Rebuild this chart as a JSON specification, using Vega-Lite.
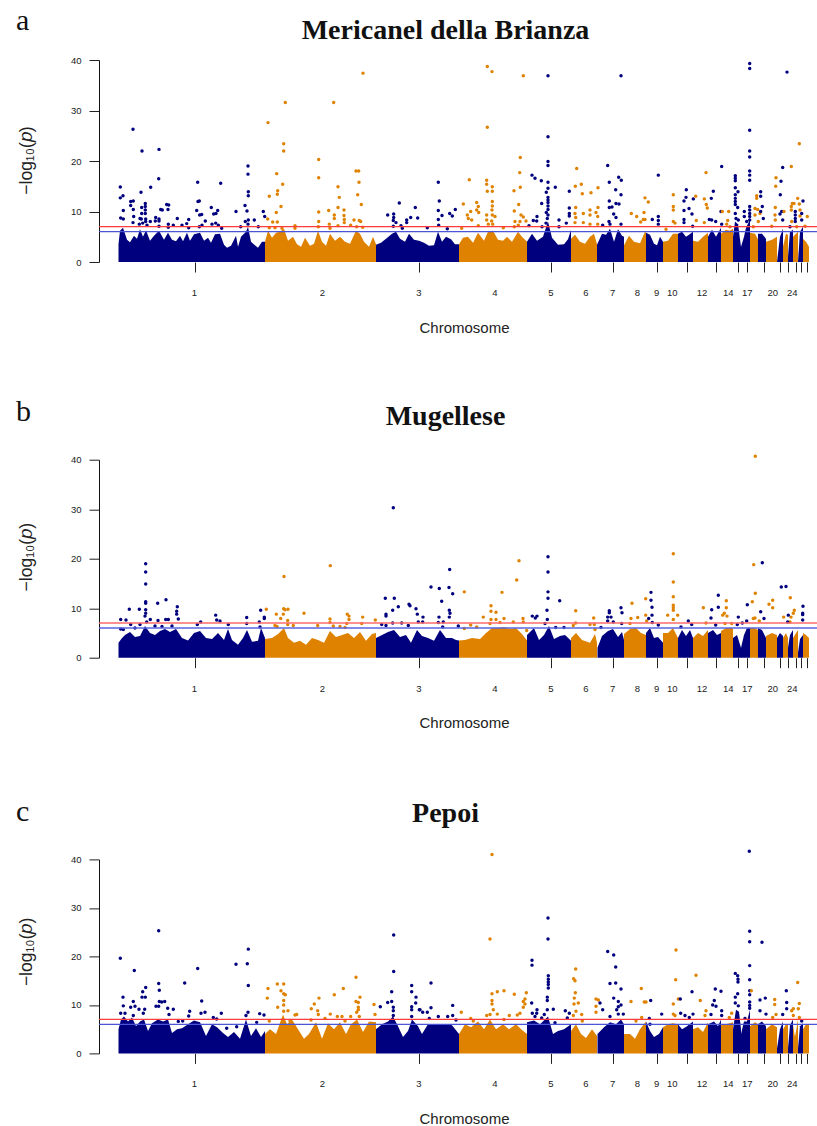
{"$schema":"https://vega.github.io/schema/vega-lite/v6.json","background":"white","padding":{"left":16,"top":6,"right":0,"bottom":0},"config":{"view":{"stroke":null},"title":{"font":"Liberation Serif","fontWeight":"bold","fontSize":28,"color":"#111","dx":-12.5},"axis":{"labelFont":"Liberation Sans","titleFont":"Liberation Sans","labelColor":"#222","titleColor":"#222","grid":false,"tickColor":"#222","domainColor":"#111","labelFontSize":9.5,"titleFontWeight":"normal"},"text":{"font":"Liberation Serif","fontSize":30,"color":"#111"}},
"datasets":{
"chrLabels":[{"pos":194.5,"label":"1"},{"pos":322.5,"label":"2"},{"pos":419,"label":"3"},{"pos":495,"label":"4"},{"pos":551,"label":"5"},{"pos":586,"label":"6"},{"pos":612.7,"label":"7"},{"pos":637.3,"label":"8"},{"pos":656.7,"label":"9"},{"pos":672.3,"label":"10"},{"pos":702,"label":"12"},{"pos":728.3,"label":"14"},{"pos":747.3,"label":"17"},{"pos":772.7,"label":"20"},{"pos":792.3,"label":"24"}],
"envA":[{"chr":1,"pos":118.5,"top":3.5},{"chr":1,"pos":120,"top":6.2},{"chr":1,"pos":123,"top":6.8},{"chr":1,"pos":127,"top":4.4},{"chr":1,"pos":130,"top":3.9},{"chr":1,"pos":134,"top":5.2},{"chr":1,"pos":137,"top":4.6},{"chr":1,"pos":140,"top":6.5},{"chr":1,"pos":143,"top":5},{"chr":1,"pos":146,"top":6.3},{"chr":1,"pos":150,"top":4.2},{"chr":1,"pos":154,"top":5.2},{"chr":1,"pos":159,"top":6.2},{"chr":1,"pos":164,"top":4.4},{"chr":1,"pos":168,"top":5.8},{"chr":1,"pos":172,"top":4.4},{"chr":1,"pos":176,"top":4.1},{"chr":1,"pos":180,"top":5.2},{"chr":1,"pos":183,"top":4.1},{"chr":1,"pos":187,"top":5.8},{"chr":1,"pos":190,"top":4.2},{"chr":1,"pos":194,"top":5.5},{"chr":1,"pos":200,"top":5.8},{"chr":1,"pos":204,"top":4.2},{"chr":1,"pos":208,"top":4.8},{"chr":1,"pos":211,"top":3.8},{"chr":1,"pos":215,"top":5.5},{"chr":1,"pos":220,"top":5.6},{"chr":1,"pos":224,"top":3.4},{"chr":1,"pos":227,"top":2.8},{"chr":1,"pos":231,"top":3.2},{"chr":1,"pos":236,"top":5.2},{"chr":1,"pos":238,"top":3},{"chr":1,"pos":241,"top":5},{"chr":1,"pos":246,"top":6},{"chr":1,"pos":248,"top":7},{"chr":1,"pos":251,"top":4},{"chr":1,"pos":258,"top":2.8},{"chr":1,"pos":262,"top":4},{"chr":1,"pos":265,"top":4},
{"chr":2,"pos":265,"top":4},{"chr":2,"pos":268,"top":6.2},{"chr":2,"pos":272,"top":4.8},{"chr":2,"pos":276,"top":5.8},{"chr":2,"pos":280,"top":6},{"chr":2,"pos":284,"top":6.6},{"chr":2,"pos":288,"top":4.2},{"chr":2,"pos":293,"top":5},{"chr":2,"pos":297,"top":3.5},{"chr":2,"pos":301,"top":3},{"chr":2,"pos":305,"top":4.8},{"chr":2,"pos":310,"top":3.2},{"chr":2,"pos":314,"top":3.6},{"chr":2,"pos":318,"top":6.2},{"chr":2,"pos":322,"top":4},{"chr":2,"pos":326,"top":3.2},{"chr":2,"pos":330,"top":5.6},{"chr":2,"pos":335,"top":4.2},{"chr":2,"pos":340,"top":5},{"chr":2,"pos":345,"top":4},{"chr":2,"pos":350,"top":3.6},{"chr":2,"pos":356,"top":6.2},{"chr":2,"pos":360,"top":5.6},{"chr":2,"pos":364,"top":4},{"chr":2,"pos":369,"top":3},{"chr":2,"pos":373,"top":5},{"chr":2,"pos":376,"top":3.5},
{"chr":3,"pos":376,"top":3.4},{"chr":3,"pos":381,"top":3.8},{"chr":3,"pos":386,"top":4.6},{"chr":3,"pos":392,"top":5.6},{"chr":3,"pos":396,"top":6},{"chr":3,"pos":400,"top":4.6},{"chr":3,"pos":405,"top":4},{"chr":3,"pos":409,"top":5.6},{"chr":3,"pos":414,"top":4.4},{"chr":3,"pos":419,"top":4.2},{"chr":3,"pos":424,"top":3.8},{"chr":3,"pos":429,"top":3.2},{"chr":3,"pos":434,"top":3.3},{"chr":3,"pos":438,"top":6},{"chr":3,"pos":442,"top":4},{"chr":3,"pos":446,"top":5},{"chr":3,"pos":451,"top":4.5},{"chr":3,"pos":455,"top":3.5},{"chr":3,"pos":459,"top":3.5},
{"chr":4,"pos":459,"top":3.5},{"chr":4,"pos":463,"top":4.8},{"chr":4,"pos":468,"top":5},{"chr":4,"pos":473,"top":3.8},{"chr":4,"pos":478,"top":5.8},{"chr":4,"pos":484,"top":4.2},{"chr":4,"pos":488,"top":6},{"chr":4,"pos":493,"top":6.2},{"chr":4,"pos":498,"top":4.4},{"chr":4,"pos":503,"top":4.2},{"chr":4,"pos":507,"top":5},{"chr":4,"pos":512,"top":4},{"chr":4,"pos":518,"top":6},{"chr":4,"pos":522,"top":5},{"chr":4,"pos":527,"top":4},
{"chr":5,"pos":527,"top":4},{"chr":5,"pos":532,"top":5.6},{"chr":5,"pos":537,"top":4.2},{"chr":5,"pos":543,"top":5},{"chr":5,"pos":548,"top":8},{"chr":5,"pos":552,"top":4.8},{"chr":5,"pos":558,"top":3.4},{"chr":5,"pos":564,"top":3.5},{"chr":5,"pos":568,"top":4.5},{"chr":5,"pos":571,"top":6.4},
{"chr":6,"pos":571,"top":4.6},{"chr":6,"pos":575,"top":5.4},{"chr":6,"pos":580,"top":4},{"chr":6,"pos":585,"top":3.6},{"chr":6,"pos":590,"top":5},{"chr":6,"pos":594,"top":5.6},{"chr":6,"pos":597,"top":3.5},
{"chr":7,"pos":597,"top":3.4},{"chr":7,"pos":602,"top":5.6},{"chr":7,"pos":606,"top":5.4},{"chr":7,"pos":610,"top":6.6},{"chr":7,"pos":614,"top":4},{"chr":7,"pos":618,"top":6.5},{"chr":7,"pos":622,"top":5.2},{"chr":7,"pos":624,"top":5},
{"chr":8,"pos":624,"top":3.3},{"chr":8,"pos":629,"top":5.2},{"chr":8,"pos":634,"top":4},{"chr":8,"pos":640,"top":3.7},{"chr":8,"pos":645,"top":6},{"chr":8,"pos":646,"top":5.8},
{"chr":9,"pos":646,"top":5.8},{"chr":9,"pos":650,"top":5.4},{"chr":9,"pos":654,"top":3.6},{"chr":9,"pos":657,"top":3.3},{"chr":9,"pos":660,"top":5},{"chr":9,"pos":663,"top":4},
{"chr":10,"pos":663,"top":4},{"chr":10,"pos":668,"top":4.2},{"chr":10,"pos":673,"top":5.6},{"chr":10,"pos":678,"top":5.6},
{"chr":11,"pos":678,"top":5.6},{"chr":11,"pos":682,"top":6},{"chr":11,"pos":686,"top":5},{"chr":11,"pos":689,"top":5.4},{"chr":11,"pos":693,"top":6},
{"chr":12,"pos":693,"top":4.2},{"chr":12,"pos":698,"top":4},{"chr":12,"pos":703,"top":5},{"chr":12,"pos":708,"top":5.8},
{"chr":13,"pos":708,"top":5},{"chr":13,"pos":712,"top":6.4},{"chr":13,"pos":716,"top":5},{"chr":13,"pos":721,"top":6.8},
{"chr":14,"pos":721,"top":5.6},{"chr":14,"pos":726,"top":6.4},{"chr":14,"pos":730,"top":6.2},{"chr":14,"pos":733,"top":6.6},
{"chr":15,"pos":733,"top":5},{"chr":15,"pos":735,"top":8},{"chr":15,"pos":738,"top":7.5},{"chr":15,"pos":741,"top":3},
{"chr":17,"pos":741,"top":3},{"chr":17,"pos":744,"top":5},{"chr":17,"pos":746,"top":6.8},{"chr":17,"pos":750,"top":8.4},
{"chr":18,"pos":750,"top":5.8},{"chr":18,"pos":755,"top":5.6},{"chr":18,"pos":758,"top":4.5},
{"chr":19,"pos":758,"top":5.6},{"chr":19,"pos":762,"top":5.6},{"chr":19,"pos":766,"top":4.6},
{"chr":20,"pos":766,"top":4},{"chr":20,"pos":772,"top":4.4},{"chr":20,"pos":777,"top":5},
{"chr":21,"pos":777,"top":0},{"chr":21,"pos":780,"top":5},{"chr":21,"pos":783,"top":6.6},
{"chr":22,"pos":783,"top":3},{"chr":22,"pos":786,"top":5.6},{"chr":22,"pos":788,"top":5.4},
{"chr":23,"pos":788,"top":1},{"chr":23,"pos":790,"top":6},{"chr":23,"pos":793,"top":6.4},
{"chr":24,"pos":793,"top":5},{"chr":24,"pos":798,"top":6},
{"chr":25,"pos":798,"top":0},{"chr":25,"pos":800,"top":6},{"chr":25,"pos":803,"top":7},
{"chr":26,"pos":803,"top":4.6},{"chr":26,"pos":806,"top":4},{"chr":26,"pos":809,"top":3}],
"ptsA":[{"chr":1,"pos":120.3,"logp":14.85},{"chr":1,"pos":120.3,"logp":12.7},{"chr":1,"pos":123,"logp":13.1},{"chr":1,"pos":123.3,"logp":10.2},{"chr":1,"pos":120.7,"logp":8.7},{"chr":1,"pos":123.3,"logp":8.5},{"chr":1,"pos":133,"logp":26.3},{"chr":1,"pos":142,"logp":22},{"chr":1,"pos":159,"logp":22.3},{"chr":1,"pos":158.7,"logp":16.5},{"chr":1,"pos":150.7,"logp":14.8},{"chr":1,"pos":141,"logp":13.8},{"chr":1,"pos":130.7,"logp":12},{"chr":1,"pos":133.3,"logp":12.1},{"chr":1,"pos":130.7,"logp":11.2},{"chr":1,"pos":133.3,"logp":10.4},{"chr":1,"pos":133.7,"logp":9},{"chr":1,"pos":133,"logp":7.8},{"chr":1,"pos":145.3,"logp":11.6},{"chr":1,"pos":145.3,"logp":11},{"chr":1,"pos":141.7,"logp":10.8},{"chr":1,"pos":145.3,"logp":10.3},{"chr":1,"pos":141.7,"logp":9.6},{"chr":1,"pos":145.3,"logp":9.6},{"chr":1,"pos":140,"logp":8.6},{"chr":1,"pos":141.3,"logp":8.5},{"chr":1,"pos":145.7,"logp":8.5},{"chr":1,"pos":145.7,"logp":8},{"chr":1,"pos":139.3,"logp":7.5},{"chr":1,"pos":142.7,"logp":7.7},{"chr":1,"pos":147,"logp":7.3},{"chr":1,"pos":150.3,"logp":8},{"chr":1,"pos":155.7,"logp":8.8},{"chr":1,"pos":159,"logp":8.5},{"chr":1,"pos":155.3,"logp":8.1},{"chr":1,"pos":159,"logp":8.1},{"chr":1,"pos":159,"logp":7.1},{"chr":1,"pos":160.7,"logp":10.4},{"chr":1,"pos":162.3,"logp":10.3},{"chr":1,"pos":166.7,"logp":11.4},{"chr":1,"pos":168.7,"logp":11.3},{"chr":1,"pos":168,"logp":10.4},{"chr":1,"pos":177.3,"logp":8.6},{"chr":1,"pos":168.3,"logp":7.5},{"chr":1,"pos":173.3,"logp":7.3},{"chr":1,"pos":168.3,"logp":6.9},{"chr":1,"pos":188.7,"logp":8.4},{"chr":1,"pos":186.7,"logp":7.6},{"chr":1,"pos":182,"logp":7.3},{"chr":1,"pos":188.7,"logp":6.8},{"chr":1,"pos":197.7,"logp":15.8},{"chr":1,"pos":198,"logp":12},{"chr":1,"pos":199.3,"logp":12.1},{"chr":1,"pos":196.7,"logp":10.2},{"chr":1,"pos":199.7,"logp":9.3},{"chr":1,"pos":201.7,"logp":9.4},{"chr":1,"pos":205.3,"logp":8.1},{"chr":1,"pos":199.3,"logp":7},{"chr":1,"pos":202,"logp":7.3},{"chr":1,"pos":220.7,"logp":15.6},{"chr":1,"pos":211.3,"logp":10.8},{"chr":1,"pos":217.7,"logp":10.2},{"chr":1,"pos":216,"logp":9.6},{"chr":1,"pos":213.7,"logp":9.5},{"chr":1,"pos":212,"logp":7.5},{"chr":1,"pos":215.7,"logp":7.7},{"chr":1,"pos":218.3,"logp":7.3},{"chr":1,"pos":221.7,"logp":6.7},{"chr":1,"pos":248,"logp":19},{"chr":1,"pos":248,"logp":17.4},{"chr":1,"pos":248.3,"logp":13.9},{"chr":1,"pos":248.3,"logp":13.1},{"chr":1,"pos":245,"logp":11.2},{"chr":1,"pos":247,"logp":10.1},{"chr":1,"pos":248,"logp":7.5},{"chr":1,"pos":245.3,"logp":8},{"chr":1,"pos":248.3,"logp":8.3},{"chr":1,"pos":254.3,"logp":8.3},{"chr":1,"pos":240.7,"logp":7},{"chr":1,"pos":236,"logp":10},{"chr":1,"pos":258.3,"logp":7},{"chr":1,"pos":263.3,"logp":10},{"chr":1,"pos":264.7,"logp":9},
{"chr":2,"pos":268,"logp":27.6},{"chr":2,"pos":285.3,"logp":31.6},{"chr":2,"pos":283.7,"logp":23.4},{"chr":2,"pos":283.7,"logp":22},{"chr":2,"pos":276.7,"logp":17.5},{"chr":2,"pos":282.7,"logp":15.4},{"chr":2,"pos":277.7,"logp":14.1},{"chr":2,"pos":277.3,"logp":13.4},{"chr":2,"pos":269.3,"logp":13},{"chr":2,"pos":281,"logp":11},{"chr":2,"pos":276.3,"logp":9.8},{"chr":2,"pos":267.7,"logp":8.5},{"chr":2,"pos":272.7,"logp":7.9},{"chr":2,"pos":277.3,"logp":7.9},{"chr":2,"pos":269.3,"logp":6.8},{"chr":2,"pos":275,"logp":6.8},{"chr":2,"pos":282,"logp":6.7},{"chr":2,"pos":333.7,"logp":31.6},{"chr":2,"pos":363,"logp":37.4},{"chr":2,"pos":318.7,"logp":20.3},{"chr":2,"pos":318.7,"logp":16.7},{"chr":2,"pos":338,"logp":14.9},{"chr":2,"pos":356,"logp":18},{"chr":2,"pos":358.7,"logp":18},{"chr":2,"pos":359,"logp":15.8},{"chr":2,"pos":357.7,"logp":13.3},{"chr":2,"pos":339.3,"logp":12.8},{"chr":2,"pos":361.3,"logp":11.4},{"chr":2,"pos":338,"logp":10.8},{"chr":2,"pos":344,"logp":10.3},{"chr":2,"pos":328.7,"logp":10.2},{"chr":2,"pos":318.7,"logp":9.9},{"chr":2,"pos":334.3,"logp":9.3},{"chr":2,"pos":344,"logp":9.2},{"chr":2,"pos":334.3,"logp":8.6},{"chr":2,"pos":344.3,"logp":8.4},{"chr":2,"pos":318.7,"logp":8},{"chr":2,"pos":354,"logp":8.3},{"chr":2,"pos":359.3,"logp":8.2},{"chr":2,"pos":360.7,"logp":8},{"chr":2,"pos":344.3,"logp":7.8},{"chr":2,"pos":329.3,"logp":7.5},{"chr":2,"pos":338,"logp":7.2},{"chr":2,"pos":350.7,"logp":7.3},{"chr":2,"pos":295,"logp":7.2},{"chr":2,"pos":295,"logp":6.7},{"chr":2,"pos":318.3,"logp":7},{"chr":2,"pos":330,"logp":6.7},{"chr":2,"pos":356.7,"logp":7},{"chr":2,"pos":362.7,"logp":6.9},
{"chr":3,"pos":399.3,"logp":11.7},{"chr":3,"pos":415.3,"logp":10.8},{"chr":3,"pos":387.7,"logp":9.3},{"chr":3,"pos":393.7,"logp":9.5},{"chr":3,"pos":393.7,"logp":8.8},{"chr":3,"pos":406.7,"logp":8.3},{"chr":3,"pos":406.7,"logp":7.8},{"chr":3,"pos":410.7,"logp":8.8},{"chr":3,"pos":417.7,"logp":8.7},{"chr":3,"pos":393.3,"logp":8.2},{"chr":3,"pos":396,"logp":7.8},{"chr":3,"pos":393.3,"logp":7.1},{"chr":3,"pos":401,"logp":7.2},{"chr":3,"pos":402.3,"logp":6.7},{"chr":3,"pos":427.3,"logp":6.8},{"chr":3,"pos":438.3,"logp":15.8},{"chr":3,"pos":439.3,"logp":12.1},{"chr":3,"pos":438.3,"logp":10.2},{"chr":3,"pos":442,"logp":9.2},{"chr":3,"pos":438.3,"logp":8.4},{"chr":3,"pos":438.7,"logp":7.3},{"chr":3,"pos":449.7,"logp":9.6},{"chr":3,"pos":455.3,"logp":10.4},{"chr":3,"pos":452.3,"logp":9.1},{"chr":3,"pos":447.3,"logp":6.6},
{"chr":4,"pos":487.3,"logp":38.7},{"chr":4,"pos":492,"logp":37.7},{"chr":4,"pos":523.3,"logp":36.9},{"chr":4,"pos":487.3,"logp":26.7},{"chr":4,"pos":520.3,"logp":20.7},{"chr":4,"pos":519.7,"logp":17.7},{"chr":4,"pos":520.3,"logp":14.8},{"chr":4,"pos":469.3,"logp":16.3},{"chr":4,"pos":486.7,"logp":16.2},{"chr":4,"pos":486.7,"logp":15.4},{"chr":4,"pos":492.3,"logp":14.9},{"chr":4,"pos":492.3,"logp":14},{"chr":4,"pos":487.3,"logp":14},{"chr":4,"pos":514,"logp":14.1},{"chr":4,"pos":463.3,"logp":11.5},{"chr":4,"pos":476.7,"logp":11.8},{"chr":4,"pos":492.3,"logp":12},{"chr":4,"pos":492.3,"logp":11.1},{"chr":4,"pos":492,"logp":10.3},{"chr":4,"pos":518.7,"logp":11.4},{"chr":4,"pos":478.3,"logp":11},{"chr":4,"pos":476.7,"logp":10.3},{"chr":4,"pos":470.7,"logp":10},{"chr":4,"pos":478.7,"logp":9.8},{"chr":4,"pos":467.3,"logp":9.3},{"chr":4,"pos":468.3,"logp":8.6},{"chr":4,"pos":471.7,"logp":8.3},{"chr":4,"pos":486.7,"logp":9.3},{"chr":4,"pos":492.3,"logp":9.3},{"chr":4,"pos":514.3,"logp":10.1},{"chr":4,"pos":521,"logp":9.3},{"chr":4,"pos":523.3,"logp":8.9},{"chr":4,"pos":495,"logp":9},{"chr":4,"pos":486.7,"logp":8.3},{"chr":4,"pos":491.7,"logp":8.1},{"chr":4,"pos":488.3,"logp":7.5},{"chr":4,"pos":492.7,"logp":7.5},{"chr":4,"pos":515,"logp":8},{"chr":4,"pos":520,"logp":8},{"chr":4,"pos":526,"logp":8.1},{"chr":4,"pos":461.7,"logp":6.7},{"chr":4,"pos":503.3,"logp":6.8},{"chr":4,"pos":478.3,"logp":7.2},{"chr":4,"pos":514.3,"logp":7},{"chr":4,"pos":518.3,"logp":7.3},
{"chr":5,"pos":548,"logp":36.9},{"chr":5,"pos":548,"logp":24.8},{"chr":5,"pos":548,"logp":19.9},{"chr":5,"pos":548,"logp":19.1},{"chr":5,"pos":532,"logp":17.2},{"chr":5,"pos":535,"logp":16.6},{"chr":5,"pos":541.3,"logp":16.1},{"chr":5,"pos":548,"logp":15.8},{"chr":5,"pos":548,"logp":14.6},{"chr":5,"pos":555.3,"logp":14.8},{"chr":5,"pos":546.3,"logp":13.8},{"chr":5,"pos":548,"logp":12.8},{"chr":5,"pos":548,"logp":12.3},{"chr":5,"pos":548,"logp":11.8},{"chr":5,"pos":541.7,"logp":11.6},{"chr":5,"pos":548,"logp":11.1},{"chr":5,"pos":548,"logp":10.4},{"chr":5,"pos":546.3,"logp":9.8},{"chr":5,"pos":548,"logp":9.3},{"chr":5,"pos":537,"logp":9},{"chr":5,"pos":533.3,"logp":8.2},{"chr":5,"pos":536.7,"logp":8.1},{"chr":5,"pos":547.3,"logp":8.6},{"chr":5,"pos":546,"logp":7.7},{"chr":5,"pos":529,"logp":7.2},{"chr":5,"pos":542,"logp":7},{"chr":5,"pos":559,"logp":8.3},{"chr":5,"pos":559,"logp":7},{"chr":5,"pos":566.3,"logp":7.7},{"chr":5,"pos":569.3,"logp":14},{"chr":5,"pos":569.3,"logp":10.7},{"chr":5,"pos":569.3,"logp":9.6},{"chr":5,"pos":569.3,"logp":9.1},
{"chr":6,"pos":576.7,"logp":18.5},{"chr":6,"pos":575.3,"logp":15},{"chr":6,"pos":581.3,"logp":15.4},{"chr":6,"pos":582.3,"logp":13.5},{"chr":6,"pos":591,"logp":13.7},{"chr":6,"pos":598,"logp":14.7},{"chr":6,"pos":575.7,"logp":10.8},{"chr":6,"pos":575,"logp":9.6},{"chr":6,"pos":575.7,"logp":8.8},{"chr":6,"pos":583.3,"logp":9.6},{"chr":6,"pos":590,"logp":10.3},{"chr":6,"pos":590,"logp":9.3},{"chr":6,"pos":598,"logp":10.8},{"chr":6,"pos":596,"logp":9.8},{"chr":6,"pos":597.7,"logp":9},{"chr":6,"pos":583.3,"logp":7.8},{"chr":6,"pos":575,"logp":7.8},{"chr":6,"pos":590,"logp":7.5},{"chr":6,"pos":597.7,"logp":7.5},
{"chr":7,"pos":607.7,"logp":19.1},{"chr":7,"pos":609.3,"logp":15.8},{"chr":7,"pos":618.7,"logp":16.8},{"chr":7,"pos":621.3,"logp":16.2},{"chr":7,"pos":615.7,"logp":14.3},{"chr":7,"pos":621,"logp":13.3},{"chr":7,"pos":609.3,"logp":12.1},{"chr":7,"pos":616,"logp":11.6},{"chr":7,"pos":619,"logp":11.5},{"chr":7,"pos":609.3,"logp":10.8},{"chr":7,"pos":612,"logp":10.9},{"chr":7,"pos":621,"logp":36.9},{"chr":7,"pos":613.7,"logp":9.5},{"chr":7,"pos":616,"logp":8.8},{"chr":7,"pos":609,"logp":8},{"chr":7,"pos":610,"logp":7.5},{"chr":7,"pos":621,"logp":7.5},{"chr":7,"pos":602.7,"logp":7.3},
{"chr":8,"pos":631.3,"logp":9.6},{"chr":8,"pos":636.7,"logp":9},{"chr":8,"pos":645,"logp":12.7},{"chr":8,"pos":648.3,"logp":11.9},{"chr":8,"pos":644,"logp":9.8},{"chr":8,"pos":640.7,"logp":7.9},{"chr":8,"pos":643.3,"logp":8.4},{"chr":8,"pos":645,"logp":8.4},
{"chr":9,"pos":658.3,"logp":17.2},{"chr":9,"pos":652.3,"logp":8.4},{"chr":9,"pos":658.3,"logp":9},{"chr":9,"pos":658.3,"logp":8.2},{"chr":9,"pos":658.3,"logp":7.5},{"chr":8,"pos":666,"logp":6.5},
{"chr":10,"pos":673.3,"logp":13.3},{"chr":10,"pos":673.3,"logp":11},{"chr":10,"pos":673.3,"logp":10.3},{"chr":10,"pos":673.3,"logp":8},{"chr":10,"pos":675,"logp":7.7},
{"chr":11,"pos":686.3,"logp":14.3},{"chr":11,"pos":686,"logp":12.8},{"chr":11,"pos":684,"logp":12.1},{"chr":11,"pos":684,"logp":10.2},{"chr":11,"pos":689,"logp":10.6},{"chr":11,"pos":692,"logp":9.5},{"chr":11,"pos":684,"logp":8.4},{"chr":11,"pos":684,"logp":7.8},{"chr":11,"pos":693.3,"logp":12.5},{"chr":11,"pos":692.7,"logp":7.1},
{"chr":12,"pos":695.7,"logp":13},{"chr":12,"pos":696.3,"logp":8.2},{"chr":12,"pos":706,"logp":17.7},{"chr":12,"pos":704.3,"logp":12.5},{"chr":12,"pos":706.3,"logp":11.4},{"chr":12,"pos":707.3,"logp":10.7},{"chr":12,"pos":704.3,"logp":7.8},
{"chr":13,"pos":713.3,"logp":14},{"chr":13,"pos":711.3,"logp":12.6},{"chr":13,"pos":721.7,"logp":18.9},{"chr":13,"pos":721,"logp":10},{"chr":13,"pos":709.3,"logp":8.4},{"chr":13,"pos":711.7,"logp":8.3},{"chr":13,"pos":715.7,"logp":8},{"chr":13,"pos":721.7,"logp":7.5},
{"chr":14,"pos":722.3,"logp":10},{"chr":14,"pos":728.7,"logp":10},{"chr":14,"pos":727.7,"logp":8.2},{"chr":14,"pos":726.7,"logp":7.5},{"chr":14,"pos":730,"logp":7},
{"chr":15,"pos":735.3,"logp":17.1},{"chr":15,"pos":735.3,"logp":16.6},{"chr":15,"pos":735.3,"logp":16.1},{"chr":15,"pos":735.3,"logp":14.7},{"chr":15,"pos":738,"logp":13.9},{"chr":15,"pos":735.3,"logp":13.3},{"chr":15,"pos":735.3,"logp":12.6},{"chr":15,"pos":735.3,"logp":12},{"chr":15,"pos":735.3,"logp":11.4},{"chr":15,"pos":737.7,"logp":10.8},{"chr":15,"pos":735.3,"logp":9.6},{"chr":15,"pos":736,"logp":8.6},{"chr":15,"pos":738.3,"logp":8.3},
{"chr":17,"pos":749.7,"logp":39.3},{"chr":17,"pos":749.7,"logp":38.3},{"chr":17,"pos":749.7,"logp":26.1},{"chr":17,"pos":749.7,"logp":22},{"chr":17,"pos":749.7,"logp":20.8},{"chr":17,"pos":749.7,"logp":18},{"chr":17,"pos":749.7,"logp":17.2},{"chr":17,"pos":749.7,"logp":16.2},{"chr":17,"pos":749.7,"logp":11},{"chr":17,"pos":749.7,"logp":10.3},{"chr":17,"pos":749.7,"logp":9.6},{"chr":17,"pos":749.7,"logp":9},{"chr":17,"pos":749.7,"logp":8.3},{"chr":17,"pos":744.3,"logp":10},{"chr":17,"pos":744.3,"logp":9},{"chr":17,"pos":746.7,"logp":8},
{"chr":18,"pos":756.7,"logp":13.1},{"chr":18,"pos":756.7,"logp":12.6},{"chr":18,"pos":755,"logp":10.6},{"chr":18,"pos":757.7,"logp":10.4},{"chr":18,"pos":755,"logp":9.3},{"chr":18,"pos":760,"logp":9.6},{"chr":18,"pos":758.3,"logp":8},{"chr":18,"pos":753.3,"logp":7},
{"chr":19,"pos":760.7,"logp":13.9},{"chr":19,"pos":760.7,"logp":13},{"chr":19,"pos":762.3,"logp":11},{"chr":19,"pos":763.3,"logp":8.6},{"chr":19,"pos":760.7,"logp":10},
{"chr":20,"pos":776,"logp":16.7},{"chr":20,"pos":775.7,"logp":15},{"chr":20,"pos":775.3,"logp":10.8},{"chr":20,"pos":775,"logp":9.3},{"chr":20,"pos":775.3,"logp":8.3},{"chr":20,"pos":771.7,"logp":7.1},
{"chr":21,"pos":787,"logp":37.6},{"chr":21,"pos":782.7,"logp":18.7},{"chr":21,"pos":781,"logp":16},{"chr":21,"pos":780.3,"logp":13.3},{"chr":21,"pos":781.7,"logp":10},{"chr":21,"pos":780,"logp":9.5},{"chr":21,"pos":782.7,"logp":8.3},
{"chr":24,"pos":799.3,"logp":23.4},{"chr":24,"pos":791.3,"logp":18.9},{"chr":24,"pos":797.7,"logp":12.6},{"chr":24,"pos":792.3,"logp":11.6},{"chr":24,"pos":794,"logp":11.6},{"chr":24,"pos":791.3,"logp":11},{"chr":24,"pos":791.3,"logp":10.3},{"chr":24,"pos":799.3,"logp":11.5},{"chr":24,"pos":800,"logp":10.3},{"chr":24,"pos":800,"logp":9.1},{"chr":24,"pos":807.3,"logp":9},{"chr":24,"pos":784,"logp":10},{"chr":24,"pos":805,"logp":7.1},{"chr":24,"pos":791.7,"logp":8},{"chr":24,"pos":796.7,"logp":7},
{"chr":25,"pos":803,"logp":12.1},{"chr":25,"pos":795.3,"logp":10},{"chr":25,"pos":795.3,"logp":9.3},{"chr":25,"pos":795.3,"logp":8.6},{"chr":25,"pos":795.3,"logp":8},{"chr":25,"pos":801.7,"logp":9.6},{"chr":25,"pos":801.7,"logp":8.3},{"chr":25,"pos":790,"logp":7}],
"envB":[{"chr":1,"pos":118.5,"top":3},{"chr":1,"pos":122,"top":4},{"chr":1,"pos":125,"top":4.6},{"chr":1,"pos":130,"top":5.2},{"chr":1,"pos":135,"top":4.2},{"chr":1,"pos":140,"top":4.4},{"chr":1,"pos":145,"top":6.4},{"chr":1,"pos":150,"top":5},{"chr":1,"pos":155,"top":4.6},{"chr":1,"pos":160,"top":5.4},{"chr":1,"pos":165,"top":5.8},{"chr":1,"pos":170,"top":5.2},{"chr":1,"pos":176,"top":5.8},{"chr":1,"pos":182,"top":4},{"chr":1,"pos":188,"top":3.5},{"chr":1,"pos":194,"top":5},{"chr":1,"pos":200,"top":5.4},{"chr":1,"pos":206,"top":4},{"chr":1,"pos":212,"top":3.8},{"chr":1,"pos":218,"top":5},{"chr":1,"pos":224,"top":3.6},{"chr":1,"pos":228,"top":5.8},{"chr":1,"pos":232,"top":3.6},{"chr":1,"pos":238,"top":2.6},{"chr":1,"pos":243,"top":4},{"chr":1,"pos":247,"top":5.6},{"chr":1,"pos":252,"top":3.2},{"chr":1,"pos":258,"top":3.4},{"chr":1,"pos":261,"top":6},{"chr":1,"pos":265,"top":4},
{"chr":2,"pos":265,"top":3.8},{"chr":2,"pos":272,"top":4},{"chr":2,"pos":278,"top":4.8},{"chr":2,"pos":284,"top":6},{"chr":2,"pos":288,"top":4},{"chr":2,"pos":294,"top":3},{"chr":2,"pos":300,"top":3.4},{"chr":2,"pos":306,"top":2.6},{"chr":2,"pos":312,"top":4},{"chr":2,"pos":318,"top":3.6},{"chr":2,"pos":324,"top":3},{"chr":2,"pos":330,"top":5.4},{"chr":2,"pos":336,"top":4.2},{"chr":2,"pos":342,"top":4.6},{"chr":2,"pos":348,"top":5},{"chr":2,"pos":354,"top":4},{"chr":2,"pos":360,"top":5.2},{"chr":2,"pos":366,"top":3.4},{"chr":2,"pos":372,"top":4.8},{"chr":2,"pos":376,"top":5},
{"chr":3,"pos":376,"top":4},{"chr":3,"pos":382,"top":4.6},{"chr":3,"pos":388,"top":5.2},{"chr":3,"pos":394,"top":5.6},{"chr":3,"pos":400,"top":4.2},{"chr":3,"pos":406,"top":4.6},{"chr":3,"pos":411,"top":3},{"chr":3,"pos":417,"top":5.6},{"chr":3,"pos":422,"top":4.4},{"chr":3,"pos":428,"top":4},{"chr":3,"pos":434,"top":3.4},{"chr":3,"pos":440,"top":5.6},{"chr":3,"pos":446,"top":4},{"chr":3,"pos":452,"top":4},{"chr":3,"pos":456,"top":3.6},{"chr":3,"pos":459,"top":3.5},
{"chr":4,"pos":459,"top":3.5},{"chr":4,"pos":465,"top":3.6},{"chr":4,"pos":472,"top":4},{"chr":4,"pos":480,"top":3.8},{"chr":4,"pos":486,"top":5},{"chr":4,"pos":492,"top":6},{"chr":4,"pos":498,"top":6},{"chr":4,"pos":504,"top":6.2},{"chr":4,"pos":510,"top":5.8},{"chr":4,"pos":516,"top":6},{"chr":4,"pos":522,"top":4.8},{"chr":4,"pos":527,"top":3.5},
{"chr":5,"pos":527,"top":4.6},{"chr":5,"pos":534,"top":6},{"chr":5,"pos":539,"top":3.6},{"chr":5,"pos":544,"top":4.6},{"chr":5,"pos":549,"top":6.4},{"chr":5,"pos":554,"top":3.8},{"chr":5,"pos":560,"top":4.4},{"chr":5,"pos":565,"top":4.6},{"chr":5,"pos":571,"top":3.4},
{"chr":6,"pos":571,"top":4},{"chr":6,"pos":576,"top":5},{"chr":6,"pos":582,"top":3.6},{"chr":6,"pos":590,"top":3},{"chr":6,"pos":595,"top":4.8},{"chr":6,"pos":597,"top":3},
{"chr":7,"pos":597.5,"top":2},{"chr":7,"pos":602,"top":4.4},{"chr":7,"pos":608,"top":5.4},{"chr":7,"pos":613,"top":5.8},{"chr":7,"pos":618,"top":4.2},{"chr":7,"pos":622,"top":5.2},{"chr":7,"pos":624,"top":3.6},
{"chr":8,"pos":624,"top":4.8},{"chr":8,"pos":630,"top":5.8},{"chr":8,"pos":636,"top":6},{"chr":8,"pos":641,"top":5},{"chr":8,"pos":646,"top":4.6},
{"chr":9,"pos":646,"top":5},{"chr":9,"pos":650,"top":6},{"chr":9,"pos":654,"top":4},{"chr":9,"pos":658,"top":4.2},{"chr":9,"pos":663,"top":3},
{"chr":10,"pos":663,"top":5},{"chr":10,"pos":668,"top":5},{"chr":10,"pos":673,"top":6},{"chr":10,"pos":678,"top":4},
{"chr":11,"pos":678,"top":4},{"chr":11,"pos":682,"top":5.6},{"chr":11,"pos":686,"top":4.4},{"chr":11,"pos":690,"top":5.6},{"chr":11,"pos":693,"top":4},
{"chr":12,"pos":693,"top":4},{"chr":12,"pos":698,"top":5},{"chr":12,"pos":703,"top":4.4},{"chr":12,"pos":708,"top":5.6},
{"chr":13,"pos":708,"top":5},{"chr":13,"pos":713,"top":5.6},{"chr":13,"pos":717,"top":4.6},{"chr":13,"pos":721,"top":5},
{"chr":14,"pos":721,"top":5.4},{"chr":14,"pos":726,"top":6},{"chr":14,"pos":733,"top":6},
{"chr":15,"pos":733,"top":4},{"chr":15,"pos":737,"top":4.6},{"chr":15,"pos":741,"top":2},
{"chr":17,"pos":741,"top":2},{"chr":17,"pos":744,"top":4.6},{"chr":17,"pos":747,"top":6},{"chr":17,"pos":750,"top":6},
{"chr":18,"pos":750,"top":6},{"chr":18,"pos":755,"top":6},{"chr":18,"pos":758,"top":5.6},
{"chr":19,"pos":758,"top":6},{"chr":19,"pos":762,"top":5.6},{"chr":19,"pos":766,"top":4},
{"chr":20,"pos":766,"top":4.4},{"chr":20,"pos":772,"top":5},{"chr":20,"pos":777,"top":4.6},
{"chr":21,"pos":777,"top":4},{"chr":21,"pos":780,"top":5},{"chr":21,"pos":783,"top":4.4},
{"chr":22,"pos":783,"top":4},{"chr":22,"pos":786,"top":5},{"chr":22,"pos":788,"top":4},
{"chr":23,"pos":788,"top":2},{"chr":23,"pos":790,"top":4.6},{"chr":23,"pos":793,"top":5.6},
{"chr":24,"pos":793,"top":4},{"chr":24,"pos":798,"top":5.6},
{"chr":25,"pos":798,"top":1},{"chr":25,"pos":800,"top":3.8},{"chr":25,"pos":803,"top":4.6},
{"chr":26,"pos":803,"top":5},{"chr":26,"pos":806,"top":4.6},{"chr":26,"pos":809,"top":4}],
"ptsB":[{"chr":1,"pos":145.7,"logp":19},{"chr":1,"pos":145.7,"logp":17.3},{"chr":1,"pos":145.7,"logp":14.9},{"chr":1,"pos":145.7,"logp":11.3},{"chr":1,"pos":145.7,"logp":11},{"chr":1,"pos":129.3,"logp":9.8},{"chr":1,"pos":139.3,"logp":9.8},{"chr":1,"pos":157.7,"logp":11},{"chr":1,"pos":166,"logp":11.7},{"chr":1,"pos":177.3,"logp":10.3},{"chr":1,"pos":176.7,"logp":9.4},{"chr":1,"pos":176.7,"logp":8.8},{"chr":1,"pos":178.3,"logp":7.8},{"chr":1,"pos":145.7,"logp":9.7},{"chr":1,"pos":145.7,"logp":9},{"chr":1,"pos":145,"logp":8.4},{"chr":1,"pos":120.7,"logp":7.7},{"chr":1,"pos":126,"logp":7.6},{"chr":1,"pos":150.3,"logp":7.7},{"chr":1,"pos":158,"logp":7.5},{"chr":1,"pos":165.7,"logp":7.7},{"chr":1,"pos":168.3,"logp":7.7},{"chr":1,"pos":130.7,"logp":6.7},{"chr":1,"pos":140,"logp":6.7},{"chr":1,"pos":146.7,"logp":7.2},{"chr":1,"pos":200.7,"logp":7.2},{"chr":1,"pos":197.3,"logp":6.7},{"chr":1,"pos":215.7,"logp":8.6},{"chr":1,"pos":216.7,"logp":7.6},{"chr":1,"pos":220,"logp":7.4},{"chr":1,"pos":246.7,"logp":8.1},{"chr":1,"pos":246.7,"logp":6.9},{"chr":1,"pos":228.3,"logp":6.7},{"chr":1,"pos":260.7,"logp":9.6},{"chr":1,"pos":259.3,"logp":7.2},{"chr":1,"pos":264.3,"logp":7.9},{"chr":1,"pos":264.3,"logp":8.2},{"chr":1,"pos":120.7,"logp":5.8},{"chr":1,"pos":123.3,"logp":5.7},{"chr":1,"pos":260,"logp":6.2},{"chr":1,"pos":135,"logp":6},{"chr":1,"pos":155,"logp":6.4},{"chr":1,"pos":162,"logp":6.3},{"chr":1,"pos":172,"logp":6.4},
{"chr":2,"pos":266.3,"logp":9.8},{"chr":2,"pos":284,"logp":16.4},{"chr":2,"pos":330.3,"logp":18.6},{"chr":2,"pos":276.3,"logp":8.8},{"chr":2,"pos":283.7,"logp":9.9},{"chr":2,"pos":285,"logp":9.7},{"chr":2,"pos":288,"logp":9.8},{"chr":2,"pos":283.3,"logp":8.8},{"chr":2,"pos":280.7,"logp":7.9},{"chr":2,"pos":304,"logp":9},{"chr":2,"pos":287.7,"logp":7.5},{"chr":2,"pos":287.7,"logp":6.7},{"chr":2,"pos":293.3,"logp":6.5},{"chr":2,"pos":317.7,"logp":6.5},{"chr":2,"pos":330,"logp":7.8},{"chr":2,"pos":330,"logp":7.1},{"chr":2,"pos":347.3,"logp":8.8},{"chr":2,"pos":349,"logp":8.4},{"chr":2,"pos":349,"logp":7.7},{"chr":2,"pos":346.7,"logp":6.9},{"chr":2,"pos":362.7,"logp":8.2},{"chr":2,"pos":375.3,"logp":7.6},{"chr":2,"pos":361.7,"logp":6.9},{"chr":2,"pos":333.3,"logp":6.4},{"chr":2,"pos":340,"logp":6.3},{"chr":2,"pos":345,"logp":6.1},{"chr":2,"pos":275,"logp":6.5},{"chr":2,"pos":277,"logp":6.3},
{"chr":3,"pos":393.3,"logp":30.3},{"chr":3,"pos":385.3,"logp":12},{"chr":3,"pos":394.3,"logp":12},{"chr":3,"pos":398.3,"logp":10.3},{"chr":3,"pos":409,"logp":10.8},{"chr":3,"pos":410,"logp":10.5},{"chr":3,"pos":416,"logp":9.9},{"chr":3,"pos":392.7,"logp":9.6},{"chr":3,"pos":386,"logp":8.8},{"chr":3,"pos":386,"logp":8.4},{"chr":3,"pos":417.3,"logp":8.8},{"chr":3,"pos":392.7,"logp":7},{"chr":3,"pos":401.7,"logp":7},{"chr":3,"pos":381.7,"logp":6.7},{"chr":3,"pos":386,"logp":6.5},{"chr":3,"pos":408.3,"logp":6.5},{"chr":3,"pos":423,"logp":8.2},{"chr":3,"pos":418.3,"logp":7.2},{"chr":3,"pos":422.7,"logp":7.2},{"chr":3,"pos":431,"logp":14.3},{"chr":3,"pos":439.3,"logp":14},{"chr":3,"pos":449.7,"logp":17.8},{"chr":3,"pos":449,"logp":14.2},{"chr":3,"pos":452.7,"logp":12.9},{"chr":3,"pos":441.7,"logp":11.4},{"chr":3,"pos":449.3,"logp":9.6},{"chr":3,"pos":450,"logp":9},{"chr":3,"pos":449.3,"logp":8.2},{"chr":3,"pos":439,"logp":8.2},{"chr":3,"pos":438.3,"logp":7.1},{"chr":3,"pos":443.3,"logp":7.2},{"chr":3,"pos":442.7,"logp":6.2},{"chr":3,"pos":458.3,"logp":6.4},
{"chr":4,"pos":464.3,"logp":13.3},{"chr":4,"pos":502,"logp":13.2},{"chr":4,"pos":519,"logp":19.6},{"chr":4,"pos":516.7,"logp":15.7},{"chr":4,"pos":491,"logp":10.5},{"chr":4,"pos":491,"logp":9.4},{"chr":4,"pos":496,"logp":9.2},{"chr":4,"pos":483.3,"logp":8.2},{"chr":4,"pos":491,"logp":7.7},{"chr":4,"pos":490,"logp":6.9},{"chr":4,"pos":496,"logp":7.7},{"chr":4,"pos":504,"logp":7.9},{"chr":4,"pos":513.3,"logp":7.2},{"chr":4,"pos":523,"logp":7.9},{"chr":4,"pos":523.3,"logp":7.2},{"chr":4,"pos":470.7,"logp":6.6},{"chr":4,"pos":476.7,"logp":6.2},{"chr":4,"pos":464.3,"logp":5.9},{"chr":4,"pos":526.7,"logp":5.5},{"chr":4,"pos":500,"logp":7.1},
{"chr":5,"pos":548,"logp":20.4},{"chr":5,"pos":548,"logp":17.3},{"chr":5,"pos":548,"logp":13.3},{"chr":5,"pos":548,"logp":12},{"chr":5,"pos":559.7,"logp":11.5},{"chr":5,"pos":547,"logp":9.6},{"chr":5,"pos":547.3,"logp":7.7},{"chr":5,"pos":532.3,"logp":8.4},{"chr":5,"pos":537,"logp":8.4},{"chr":5,"pos":535.3,"logp":8},{"chr":5,"pos":545,"logp":6.9},{"chr":5,"pos":555.7,"logp":6.1},{"chr":5,"pos":564,"logp":6.1},
{"chr":6,"pos":575.7,"logp":9.5},{"chr":6,"pos":575.7,"logp":7},{"chr":6,"pos":573.3,"logp":6.5},{"chr":6,"pos":593.7,"logp":8},{"chr":6,"pos":590,"logp":6.7},{"chr":6,"pos":594.3,"logp":6.7},{"chr":6,"pos":595,"logp":5.7},
{"chr":7,"pos":609.3,"logp":9.5},{"chr":7,"pos":609.3,"logp":9.1},{"chr":7,"pos":607.7,"logp":8.2},{"chr":7,"pos":611,"logp":8.2},{"chr":7,"pos":621,"logp":10.1},{"chr":7,"pos":622,"logp":9.1},{"chr":7,"pos":607.7,"logp":7.4},{"chr":7,"pos":613.3,"logp":7.2},{"chr":7,"pos":621.7,"logp":6.9},{"chr":7,"pos":601,"logp":6.1},
{"chr":8,"pos":632,"logp":11},{"chr":8,"pos":631,"logp":7.9},{"chr":8,"pos":637.7,"logp":8.1},{"chr":8,"pos":630,"logp":6.9},{"chr":8,"pos":645.7,"logp":11.9},{"chr":8,"pos":645.7,"logp":8.6},{"chr":8,"pos":646.7,"logp":7.4},
{"chr":9,"pos":651,"logp":13.2},{"chr":9,"pos":651,"logp":11.6},{"chr":9,"pos":652,"logp":10.2},{"chr":9,"pos":652,"logp":8.6},{"chr":9,"pos":648.7,"logp":7.9},{"chr":9,"pos":652.3,"logp":7.1},{"chr":9,"pos":658.3,"logp":6.6},
{"chr":10,"pos":673.3,"logp":21},{"chr":10,"pos":673.3,"logp":15.3},{"chr":10,"pos":673.3,"logp":12.3},{"chr":10,"pos":673.3,"logp":10.6},{"chr":10,"pos":673.3,"logp":10.1},{"chr":10,"pos":673.3,"logp":9.6},{"chr":10,"pos":667.7,"logp":8.6},{"chr":10,"pos":673.3,"logp":7.7},{"chr":10,"pos":677.7,"logp":8.6},
{"chr":11,"pos":688.3,"logp":7.4},{"chr":11,"pos":691.7,"logp":6.7},{"chr":11,"pos":681,"logp":6.2},
{"chr":12,"pos":703.3,"logp":10.1},{"chr":12,"pos":706,"logp":7},
{"chr":13,"pos":718.3,"logp":12.6},{"chr":13,"pos":711.7,"logp":9.7},{"chr":13,"pos":718.3,"logp":10.2},{"chr":13,"pos":711,"logp":8},{"chr":13,"pos":715.7,"logp":6.6},
{"chr":14,"pos":726.3,"logp":11.5},{"chr":14,"pos":726.3,"logp":10.1},{"chr":14,"pos":724.3,"logp":9},{"chr":14,"pos":722.7,"logp":8.6},{"chr":14,"pos":727,"logp":8.4},{"chr":14,"pos":725,"logp":6.9},{"chr":14,"pos":731.7,"logp":6.9},
{"chr":15,"pos":738.3,"logp":8.2},{"chr":15,"pos":737.3,"logp":6.7},{"chr":17,"pos":742.3,"logp":7},{"chr":17,"pos":746.7,"logp":7.4},{"chr":17,"pos":747.3,"logp":10.7},
{"chr":18,"pos":755.3,"logp":40.7},{"chr":18,"pos":753.7,"logp":18.8},{"chr":18,"pos":755.3,"logp":13},{"chr":18,"pos":752.3,"logp":11.3},{"chr":18,"pos":753.3,"logp":7.9},{"chr":18,"pos":755,"logp":8},{"chr":18,"pos":759.3,"logp":7.4},
{"chr":19,"pos":762.3,"logp":19.2},{"chr":19,"pos":760.7,"logp":9.3},{"chr":19,"pos":764,"logp":7.9},
{"chr":20,"pos":769,"logp":10.8},{"chr":20,"pos":772.7,"logp":11.6},{"chr":20,"pos":772.7,"logp":10.1},
{"chr":21,"pos":781.3,"logp":14.3},{"chr":21,"pos":786,"logp":14.4},
{"chr":24,"pos":790.3,"logp":12.1},{"chr":24,"pos":794.3,"logp":9.6},{"chr":24,"pos":793.3,"logp":9},{"chr":24,"pos":783.7,"logp":8.2},{"chr":24,"pos":791,"logp":8.2},{"chr":24,"pos":790,"logp":7.2},
{"chr":25,"pos":803,"logp":10.4},{"chr":25,"pos":802.7,"logp":9},{"chr":25,"pos":802.7,"logp":8.7},{"chr":25,"pos":788.3,"logp":8.6},{"chr":25,"pos":787.7,"logp":7.2},{"chr":25,"pos":802.7,"logp":7.6}],
"envC":[{"chr":1,"pos":118.5,"top":5},{"chr":1,"pos":121,"top":7},{"chr":1,"pos":124,"top":7.6},{"chr":1,"pos":128,"top":6.6},{"chr":1,"pos":132,"top":7.4},{"chr":1,"pos":136,"top":5.6},{"chr":1,"pos":140,"top":6.6},{"chr":1,"pos":144,"top":7},{"chr":1,"pos":148,"top":4.6},{"chr":1,"pos":152,"top":6.2},{"chr":1,"pos":158,"top":7},{"chr":1,"pos":163,"top":6.6},{"chr":1,"pos":168,"top":7},{"chr":1,"pos":172,"top":4.2},{"chr":1,"pos":177,"top":5},{"chr":1,"pos":182,"top":5.2},{"chr":1,"pos":188,"top":6},{"chr":1,"pos":194,"top":6.8},{"chr":1,"pos":200,"top":6.4},{"chr":1,"pos":206,"top":3.6},{"chr":1,"pos":212,"top":6},{"chr":1,"pos":217,"top":5.4},{"chr":1,"pos":223,"top":4.2},{"chr":1,"pos":228,"top":3.4},{"chr":1,"pos":234,"top":4.4},{"chr":1,"pos":240,"top":3},{"chr":1,"pos":246,"top":7},{"chr":1,"pos":251,"top":3.6},{"chr":1,"pos":256,"top":5.2},{"chr":1,"pos":261,"top":3.4},{"chr":1,"pos":265,"top":4.6},
{"chr":2,"pos":265,"top":4},{"chr":2,"pos":270,"top":5},{"chr":2,"pos":276,"top":4},{"chr":2,"pos":283,"top":8},{"chr":2,"pos":287,"top":6},{"chr":2,"pos":292,"top":7},{"chr":2,"pos":298,"top":5},{"chr":2,"pos":304,"top":3},{"chr":2,"pos":309,"top":4},{"chr":2,"pos":316,"top":6.4},{"chr":2,"pos":322,"top":3},{"chr":2,"pos":328,"top":6.2},{"chr":2,"pos":334,"top":5},{"chr":2,"pos":340,"top":6.4},{"chr":2,"pos":346,"top":4},{"chr":2,"pos":351,"top":6},{"chr":2,"pos":357,"top":7},{"chr":2,"pos":363,"top":4.4},{"chr":2,"pos":369,"top":6.6},{"chr":2,"pos":376,"top":6.4},
{"chr":3,"pos":376,"top":5},{"chr":3,"pos":382,"top":6},{"chr":3,"pos":388,"top":6.6},{"chr":3,"pos":393,"top":7.6},{"chr":3,"pos":398,"top":5.6},{"chr":3,"pos":403,"top":3.4},{"chr":3,"pos":408,"top":4.6},{"chr":3,"pos":412,"top":7},{"chr":3,"pos":418,"top":5.6},{"chr":3,"pos":422,"top":4},{"chr":3,"pos":428,"top":6},{"chr":3,"pos":434,"top":6},{"chr":3,"pos":440,"top":6},{"chr":3,"pos":446,"top":6},{"chr":3,"pos":452,"top":5.8},{"chr":3,"pos":459,"top":4},
{"chr":4,"pos":459,"top":4},{"chr":4,"pos":465,"top":6},{"chr":4,"pos":471,"top":5.4},{"chr":4,"pos":478,"top":6.6},{"chr":4,"pos":484,"top":5},{"chr":4,"pos":490,"top":7},{"chr":4,"pos":496,"top":5},{"chr":4,"pos":503,"top":6},{"chr":4,"pos":509,"top":5},{"chr":4,"pos":516,"top":6},{"chr":4,"pos":522,"top":4.8},{"chr":4,"pos":527,"top":4},
{"chr":5,"pos":527,"top":6.4},{"chr":5,"pos":534,"top":6.8},{"chr":5,"pos":540,"top":6},{"chr":5,"pos":548,"top":7.6},{"chr":5,"pos":553,"top":4},{"chr":5,"pos":558,"top":4.6},{"chr":5,"pos":564,"top":5},{"chr":5,"pos":571,"top":6},
{"chr":6,"pos":571,"top":4.6},{"chr":6,"pos":576,"top":6},{"chr":6,"pos":581,"top":4},{"chr":6,"pos":586,"top":3.2},{"chr":6,"pos":592,"top":5},{"chr":6,"pos":597,"top":3.6},
{"chr":7,"pos":597.5,"top":4},{"chr":7,"pos":604,"top":5.4},{"chr":7,"pos":610,"top":6.4},{"chr":7,"pos":616,"top":6},{"chr":7,"pos":621,"top":7},{"chr":7,"pos":624,"top":6},
{"chr":8,"pos":624,"top":4},{"chr":8,"pos":630,"top":4},{"chr":8,"pos":635,"top":3},{"chr":8,"pos":640,"top":5},{"chr":8,"pos":646,"top":6.6},
{"chr":9,"pos":646,"top":6.6},{"chr":9,"pos":650,"top":4.6},{"chr":9,"pos":654,"top":3.4},{"chr":9,"pos":659,"top":4},{"chr":9,"pos":663,"top":5.4},
{"chr":10,"pos":663,"top":5.4},{"chr":10,"pos":668,"top":6},{"chr":10,"pos":673,"top":6.2},{"chr":10,"pos":678,"top":6},
{"chr":11,"pos":678,"top":6},{"chr":11,"pos":682,"top":5},{"chr":11,"pos":687,"top":5.6},{"chr":11,"pos":693,"top":6.6},
{"chr":12,"pos":693,"top":5},{"chr":12,"pos":698,"top":5.4},{"chr":12,"pos":703,"top":4.4},{"chr":12,"pos":708,"top":6.4},
{"chr":13,"pos":708,"top":6},{"chr":13,"pos":714,"top":6.6},{"chr":13,"pos":718,"top":5.6},{"chr":13,"pos":721,"top":7},
{"chr":14,"pos":721,"top":5.8},{"chr":14,"pos":726,"top":6},{"chr":14,"pos":733,"top":6.4},
{"chr":15,"pos":733,"top":5},{"chr":15,"pos":736,"top":9},{"chr":15,"pos":739,"top":8.6},{"chr":15,"pos":741,"top":5},
{"chr":17,"pos":741,"top":4},{"chr":17,"pos":744,"top":6.6},{"chr":17,"pos":747,"top":6.6},{"chr":17,"pos":750,"top":9},
{"chr":18,"pos":750,"top":5.6},{"chr":18,"pos":755,"top":6.4},{"chr":18,"pos":758,"top":6},
{"chr":19,"pos":758,"top":6},{"chr":19,"pos":762,"top":6.6},{"chr":19,"pos":766,"top":5.6},
{"chr":20,"pos":766,"top":5},{"chr":20,"pos":772,"top":6},{"chr":20,"pos":777,"top":5.4},
{"chr":21,"pos":777,"top":1},{"chr":21,"pos":780,"top":5},{"chr":21,"pos":783,"top":6.6},
{"chr":22,"pos":783,"top":5},{"chr":22,"pos":786,"top":6},{"chr":22,"pos":788,"top":6},
{"chr":23,"pos":788,"top":1},{"chr":23,"pos":790,"top":5.8},{"chr":23,"pos":793,"top":7},
{"chr":24,"pos":793,"top":5.8},{"chr":24,"pos":795,"top":3.4},{"chr":24,"pos":798,"top":7},
{"chr":25,"pos":798,"top":1},{"chr":25,"pos":800,"top":5.6},{"chr":25,"pos":803,"top":6.2},
{"chr":26,"pos":803,"top":5},{"chr":26,"pos":806,"top":6},{"chr":26,"pos":809,"top":6}],
"ptsC":[{"chr":1,"pos":120.3,"logp":19.6},{"chr":1,"pos":134.3,"logp":17.1},{"chr":1,"pos":158.7,"logp":25.3},{"chr":1,"pos":158.7,"logp":14.4},{"chr":1,"pos":159.3,"logp":13},{"chr":1,"pos":197.7,"logp":17.5},{"chr":1,"pos":184.7,"logp":14.5},{"chr":1,"pos":236,"logp":18.4},{"chr":1,"pos":247.3,"logp":18.5},{"chr":1,"pos":248.3,"logp":21.5},{"chr":1,"pos":248.3,"logp":14},{"chr":1,"pos":145.7,"logp":13.6},{"chr":1,"pos":142.7,"logp":12.7},{"chr":1,"pos":123,"logp":11.6},{"chr":1,"pos":142,"logp":11.6},{"chr":1,"pos":145.3,"logp":11.6},{"chr":1,"pos":133.3,"logp":10.7},{"chr":1,"pos":123.3,"logp":9.8},{"chr":1,"pos":130.7,"logp":9.5},{"chr":1,"pos":135,"logp":9.7},{"chr":1,"pos":159.3,"logp":10.7},{"chr":1,"pos":161.7,"logp":10.6},{"chr":1,"pos":164.7,"logp":10.7},{"chr":1,"pos":156,"logp":9.7},{"chr":1,"pos":158.7,"logp":9.7},{"chr":1,"pos":167.7,"logp":9.3},{"chr":1,"pos":173.3,"logp":9.1},{"chr":1,"pos":201.7,"logp":10.8},{"chr":1,"pos":189.7,"logp":8.7},{"chr":1,"pos":221.3,"logp":8.3},{"chr":1,"pos":248,"logp":8.5},{"chr":1,"pos":259.7,"logp":8.2},{"chr":1,"pos":264,"logp":7.9},{"chr":1,"pos":139,"logp":9.1},{"chr":1,"pos":144.7,"logp":9.1},{"chr":1,"pos":143.3,"logp":8.3},{"chr":1,"pos":120.7,"logp":8.3},{"chr":1,"pos":125,"logp":8.3},{"chr":1,"pos":133.3,"logp":7.8},{"chr":1,"pos":169,"logp":8},{"chr":1,"pos":188.7,"logp":7.7},{"chr":1,"pos":205,"logp":8.5},{"chr":1,"pos":201,"logp":8.3},{"chr":1,"pos":213.3,"logp":7.4},{"chr":1,"pos":216.7,"logp":7.1},{"chr":1,"pos":246,"logp":7.8},{"chr":1,"pos":256.7,"logp":6.4},{"chr":1,"pos":178.3,"logp":6.6},{"chr":1,"pos":182.7,"logp":6.7},{"chr":1,"pos":236.7,"logp":5.5},{"chr":1,"pos":226.7,"logp":5.2},
{"chr":2,"pos":268,"logp":13.4},{"chr":2,"pos":277.3,"logp":14.3},{"chr":2,"pos":283.7,"logp":14.3},{"chr":2,"pos":267.3,"logp":11.4},{"chr":2,"pos":281,"logp":12.9},{"chr":2,"pos":283.7,"logp":12.3},{"chr":2,"pos":285.3,"logp":12.1},{"chr":2,"pos":283.7,"logp":10.9},{"chr":2,"pos":283.7,"logp":10},{"chr":2,"pos":277.7,"logp":9.5},{"chr":2,"pos":283.7,"logp":8.7},{"chr":2,"pos":288,"logp":8.8},{"chr":2,"pos":295,"logp":7.9},{"chr":2,"pos":296.7,"logp":8},{"chr":2,"pos":356,"logp":15.7},{"chr":2,"pos":343.3,"logp":13.4},{"chr":2,"pos":334.3,"logp":12.1},{"chr":2,"pos":319,"logp":11.4},{"chr":2,"pos":360,"logp":11.6},{"chr":2,"pos":356,"logp":10.7},{"chr":2,"pos":358.3,"logp":10.5},{"chr":2,"pos":374,"logp":10.1},{"chr":2,"pos":314.3,"logp":10.2},{"chr":2,"pos":311.3,"logp":9.2},{"chr":2,"pos":317.7,"logp":8.8},{"chr":2,"pos":358.3,"logp":9.5},{"chr":2,"pos":358.3,"logp":9},{"chr":2,"pos":356.7,"logp":8.5},{"chr":2,"pos":330.3,"logp":8.1},{"chr":2,"pos":375,"logp":8},{"chr":2,"pos":318.3,"logp":8},{"chr":2,"pos":337.3,"logp":7.6},{"chr":2,"pos":342,"logp":7.6},{"chr":2,"pos":325,"logp":7.2},{"chr":2,"pos":311,"logp":6.9},{"chr":2,"pos":350.7,"logp":7.6},{"chr":2,"pos":359.3,"logp":7.6},{"chr":2,"pos":269.3,"logp":6.7},{"chr":2,"pos":290,"logp":6.7},{"chr":2,"pos":345,"logp":6.7},
{"chr":3,"pos":393.7,"logp":24.4},{"chr":3,"pos":393.7,"logp":16.9},{"chr":3,"pos":391.7,"logp":12.7},{"chr":3,"pos":411.7,"logp":14},{"chr":3,"pos":411.7,"logp":12.7},{"chr":3,"pos":416,"logp":11.6},{"chr":3,"pos":391.7,"logp":10.7},{"chr":3,"pos":387.7,"logp":10.5},{"chr":3,"pos":380.3,"logp":9.6},{"chr":3,"pos":393.3,"logp":9.5},{"chr":3,"pos":393.3,"logp":8.8},{"chr":3,"pos":411.7,"logp":9.6},{"chr":3,"pos":415.7,"logp":10.4},{"chr":3,"pos":411.7,"logp":9},{"chr":3,"pos":419.3,"logp":9},{"chr":3,"pos":393.3,"logp":7.8},{"chr":3,"pos":411.7,"logp":7.6},{"chr":3,"pos":431,"logp":14.5},{"chr":3,"pos":420,"logp":9},{"chr":3,"pos":422.7,"logp":8.5},{"chr":3,"pos":427.3,"logp":8.5},{"chr":3,"pos":431,"logp":9.4},{"chr":3,"pos":429.3,"logp":7.2},{"chr":3,"pos":438.3,"logp":7.6},{"chr":3,"pos":447.7,"logp":7.6},{"chr":3,"pos":452.7,"logp":9.9},{"chr":3,"pos":452.7,"logp":7.8},{"chr":3,"pos":456,"logp":6.9},
{"chr":4,"pos":492,"logp":41},{"chr":4,"pos":490,"logp":23.6},{"chr":4,"pos":492,"logp":12.3},{"chr":4,"pos":497.3,"logp":12.7},{"chr":4,"pos":504,"logp":12.9},{"chr":4,"pos":514.3,"logp":12.2},{"chr":4,"pos":526.3,"logp":12.5},{"chr":4,"pos":492,"logp":10.9},{"chr":4,"pos":492,"logp":10.2},{"chr":4,"pos":525,"logp":11.2},{"chr":4,"pos":523.3,"logp":10.7},{"chr":4,"pos":525,"logp":10.2},{"chr":4,"pos":523.3,"logp":9.5},{"chr":4,"pos":493.3,"logp":9},{"chr":4,"pos":497.3,"logp":8.1},{"chr":4,"pos":461.3,"logp":8.5},{"chr":4,"pos":486.7,"logp":7.8},{"chr":4,"pos":490,"logp":8},{"chr":4,"pos":509.3,"logp":7.8},{"chr":4,"pos":520,"logp":8.3},{"chr":4,"pos":517.3,"logp":7.9},{"chr":4,"pos":470.7,"logp":7.2},{"chr":4,"pos":473.3,"logp":6.7},{"chr":4,"pos":504,"logp":7},
{"chr":5,"pos":548,"logp":27.9},{"chr":5,"pos":548,"logp":23.6},{"chr":5,"pos":532,"logp":19.2},{"chr":5,"pos":532,"logp":18.2},{"chr":5,"pos":548.3,"logp":16},{"chr":5,"pos":548.3,"logp":15.3},{"chr":5,"pos":548.3,"logp":14.7},{"chr":5,"pos":548.3,"logp":14.2},{"chr":5,"pos":548.3,"logp":13.5},{"chr":5,"pos":547.3,"logp":11.6},{"chr":5,"pos":547.3,"logp":10.9},{"chr":5,"pos":531.7,"logp":10.4},{"chr":5,"pos":547.3,"logp":9},{"chr":5,"pos":553.3,"logp":9.1},{"chr":5,"pos":537,"logp":9},{"chr":5,"pos":536.7,"logp":8.3},{"chr":5,"pos":532.3,"logp":8.3},{"chr":5,"pos":544.3,"logp":8},{"chr":5,"pos":541.7,"logp":7.3},{"chr":5,"pos":535,"logp":7.6},{"chr":5,"pos":565.3,"logp":8.8},{"chr":5,"pos":569.3,"logp":8.3},{"chr":5,"pos":567.3,"logp":7.3},{"chr":5,"pos":555,"logp":6.3},
{"chr":6,"pos":575.7,"logp":17.4},{"chr":6,"pos":573.7,"logp":15.4},{"chr":6,"pos":575,"logp":15},{"chr":6,"pos":575.3,"logp":12.5},{"chr":6,"pos":574.3,"logp":11.4},{"chr":6,"pos":574,"logp":10.2},{"chr":6,"pos":578.3,"logp":10.4},{"chr":6,"pos":576,"logp":8.7},{"chr":6,"pos":596,"logp":11.2},{"chr":6,"pos":598.3,"logp":11},{"chr":6,"pos":596,"logp":9.7},{"chr":6,"pos":596,"logp":8.5},{"chr":6,"pos":581.7,"logp":8},{"chr":6,"pos":573.3,"logp":7.8},{"chr":6,"pos":582.3,"logp":6.7},
{"chr":7,"pos":607.7,"logp":21},{"chr":7,"pos":613.7,"logp":20.3},{"chr":7,"pos":615.7,"logp":17.8},{"chr":7,"pos":610,"logp":14.4},{"chr":7,"pos":615.7,"logp":14.5},{"chr":7,"pos":621,"logp":13.3},{"chr":7,"pos":613.7,"logp":11.4},{"chr":7,"pos":600,"logp":10.4},{"chr":7,"pos":618.3,"logp":10.7},{"chr":7,"pos":621,"logp":10},{"chr":7,"pos":602.7,"logp":9},{"chr":7,"pos":616.7,"logp":9},{"chr":7,"pos":618.3,"logp":9.6},{"chr":7,"pos":610,"logp":7.6},{"chr":7,"pos":623.3,"logp":8.1},{"chr":7,"pos":618.3,"logp":8.1},
{"chr":8,"pos":631,"logp":10.7},{"chr":8,"pos":641.3,"logp":13.4},{"chr":8,"pos":644.3,"logp":10.6},{"chr":8,"pos":646,"logp":10.6},{"chr":8,"pos":636,"logp":6.7},{"chr":8,"pos":641.7,"logp":7.4},
{"chr":9,"pos":650.7,"logp":10.9},{"chr":9,"pos":661.7,"logp":8.1},{"chr":9,"pos":649.3,"logp":7.2},{"chr":9,"pos":650,"logp":6},
{"chr":10,"pos":676,"logp":21.3},{"chr":10,"pos":675.7,"logp":15.2},{"chr":10,"pos":678.3,"logp":11.2},{"chr":10,"pos":673.3,"logp":10.2},{"chr":10,"pos":673.3,"logp":8.1},{"chr":10,"pos":675,"logp":7.8},
{"chr":11,"pos":680.3,"logp":11.2},{"chr":11,"pos":692,"logp":12.7},{"chr":11,"pos":680.7,"logp":8.3},{"chr":11,"pos":685,"logp":7.8},{"chr":11,"pos":693,"logp":8.1},{"chr":11,"pos":689.3,"logp":7.4},
{"chr":12,"pos":696,"logp":16.1},{"chr":12,"pos":700.3,"logp":10.9},{"chr":12,"pos":706,"logp":8.8},{"chr":12,"pos":705,"logp":7.8},
{"chr":13,"pos":715.3,"logp":13.3},{"chr":13,"pos":721,"logp":12.8},{"chr":13,"pos":714.3,"logp":10.9},{"chr":13,"pos":712.7,"logp":10},{"chr":13,"pos":716,"logp":9.7},{"chr":13,"pos":721.7,"logp":8.8},{"chr":13,"pos":711,"logp":8},{"chr":13,"pos":721.7,"logp":7.8},
{"chr":14,"pos":731.7,"logp":8.3},{"chr":14,"pos":729.3,"logp":7.4},
{"chr":15,"pos":735.3,"logp":16.5},{"chr":15,"pos":737.7,"logp":16},{"chr":15,"pos":738,"logp":15.3},{"chr":15,"pos":738,"logp":14.7},{"chr":15,"pos":737.7,"logp":12.3},{"chr":15,"pos":735.3,"logp":11.6},{"chr":15,"pos":735.3,"logp":10.4},{"chr":15,"pos":738.3,"logp":9.8},
{"chr":17,"pos":749.3,"logp":41.7},{"chr":17,"pos":749.7,"logp":25.2},{"chr":17,"pos":749.7,"logp":23},{"chr":17,"pos":749.7,"logp":18.1},{"chr":17,"pos":749.7,"logp":15.2},{"chr":17,"pos":749.7,"logp":12.9},{"chr":17,"pos":749.7,"logp":12.1},{"chr":17,"pos":749.7,"logp":10.6},{"chr":17,"pos":749.7,"logp":9.9},{"chr":17,"pos":749.7,"logp":9.3},{"chr":17,"pos":745,"logp":7.2},
{"chr":18,"pos":751.3,"logp":12.9},
{"chr":19,"pos":762,"logp":22.9},{"chr":19,"pos":765.3,"logp":11.4},{"chr":19,"pos":760,"logp":11},{"chr":19,"pos":760,"logp":8.8},{"chr":19,"pos":766,"logp":8.1},
{"chr":20,"pos":774.7,"logp":11.1},{"chr":20,"pos":774.7,"logp":10.1},{"chr":20,"pos":776,"logp":8},{"chr":20,"pos":772.7,"logp":7.4},
{"chr":21,"pos":786.3,"logp":12.9},{"chr":21,"pos":786.7,"logp":10.5},{"chr":21,"pos":786.7,"logp":9.2},{"chr":21,"pos":782.7,"logp":8},{"chr":21,"pos":801.7,"logp":6.7},
{"chr":24,"pos":797.7,"logp":14.6},{"chr":24,"pos":799.3,"logp":10.3},{"chr":24,"pos":798.3,"logp":9.2},{"chr":24,"pos":793.3,"logp":9.2},{"chr":24,"pos":791.7,"logp":8.8},{"chr":24,"pos":793.3,"logp":7.8},{"chr":24,"pos":799.3,"logp":7.4}]
},
"vconcat":[
{"width":718,"height":202,"title":{"text":"Mericanel della Brianza","offset":-38.5},"layer":[
{"data":{"name":"envA"},"mark":{"type":"area"},"encoding":{"x":{"field":"pos","type":"quantitative","scale":{"domain":[99,817]},"title":"Chromosome","axis":{"values":[194.5,322.5,419,495,551,586,612.7,637.3,656.7,672.3,687.3,702,715.7,728.3,738.3,743.3,747.3,755.7,763.7,772.7,780.3,785.7,788,792.3,796,798.3,800.7,803,806.7],"labels":false,"domain":false,"tickSize":10,"titleFontSize":15,"titleX":365,"titleY":58}},"y":{"field":"top","type":"quantitative","stack":null,"scale":{"domain":[0,40]},"title":"−log₁₀(𝑝)","axis":{"values":[0,10,20,30,40],"tickSize":10,"labelPadding":8,"titleFontSize":17.5,"titleX":-64,"titleY":100}},"color":{"field":"chr","type":"ordinal","legend":null,"scale":{"domain":[1,2,3,4,5,6,7,8,9,10,11,12,13,14,15,17,18,19,20,21,22,23,24,25,26],"range":["#00007f","#df8200","#00007f","#df8200","#00007f","#df8200","#00007f","#df8200","#00007f","#df8200","#00007f","#df8200","#00007f","#df8200","#00007f","#00007f","#df8200","#00007f","#df8200","#00007f","#df8200","#00007f","#df8200","#00007f","#df8200"]}}}},
{"data":{"name":"ptsA"},"mark":{"type":"circle","size":12,"opacity":1},"encoding":{"x":{"field":"pos","type":"quantitative","scale":{"domain":[99,817]}},"y":{"field":"logp","type":"quantitative","scale":{"domain":[0,40]}},"color":{"field":"chr","type":"ordinal","legend":null}}},
{"data":{"values":[{"threshold":7}]},"mark":{"type":"rule","color":"#ff3b3b","strokeWidth":1.2},"encoding":{"y":{"field":"threshold","type":"quantitative","scale":{"domain":[0,40]}}}},
{"data":{"values":[{"threshold":6}]},"mark":{"type":"rule","color":"#4a55d8","strokeWidth":1.2},"encoding":{"y":{"field":"threshold","type":"quantitative","scale":{"domain":[0,40]}}}},
{"data":{"name":"chrLabels"},"mark":{"type":"text","font":"Liberation Sans","fontSize":9.5,"color":"#222","baseline":"middle","align":"center"},"encoding":{"x":{"field":"pos","type":"quantitative","scale":{"domain":[99,817]}},"y":{"datum":-6.14,"scale":{"domain":[0,40]}},"text":{"field":"label"}}},
{"data":{"values":[{"letter":"a","pos":16,"logp":45.9}]},"mark":{"type":"text","align":"left","baseline":"alphabetic"},"encoding":{"x":{"field":"pos","type":"quantitative","scale":{"domain":[99,817]}},"y":{"field":"logp","type":"quantitative","scale":{"domain":[0,40]}},"text":{"field":"letter"}}}
]},
{"vconcat":[
{"width":718,"height":198,"title":{"text":"Mugellese","offset":-34},"layer":[
{"data":{"name":"envB"},"mark":{"type":"area"},"encoding":{"x":{"field":"pos","type":"quantitative","scale":{"domain":[99,817]},"title":"Chromosome","axis":{"values":[194.5,322.5,419,495,551,586,612.7,637.3,656.7,672.3,687.3,702,715.7,728.3,738.3,743.3,747.3,755.7,763.7,772.7,780.3,785.7,788,792.3,796,798.3,800.7,803,806.7],"labels":false,"domain":false,"tickSize":10,"titleFontSize":15,"titleX":365,"titleY":58}},"y":{"field":"top","type":"quantitative","stack":null,"scale":{"domain":[0,40]},"title":"−log₁₀(𝑝)","axis":{"values":[0,10,20,30,40],"tickSize":10,"labelPadding":8,"titleFontSize":17.5,"titleX":-64,"titleY":97}},"color":{"field":"chr","type":"ordinal","legend":null,"scale":{"domain":[1,2,3,4,5,6,7,8,9,10,11,12,13,14,15,17,18,19,20,21,22,23,24,25,26],"range":["#00007f","#df8200","#00007f","#df8200","#00007f","#df8200","#00007f","#df8200","#00007f","#df8200","#00007f","#df8200","#00007f","#df8200","#00007f","#00007f","#df8200","#00007f","#df8200","#00007f","#df8200","#00007f","#df8200","#00007f","#df8200"]}}}},
{"data":{"name":"ptsB"},"mark":{"type":"circle","size":12,"opacity":1},"encoding":{"x":{"field":"pos","type":"quantitative","scale":{"domain":[99,817]}},"y":{"field":"logp","type":"quantitative","scale":{"domain":[0,40]}},"color":{"field":"chr","type":"ordinal","legend":null}}},
{"data":{"values":[{"threshold":7}]},"mark":{"type":"rule","color":"#ff6b6b","strokeWidth":1.6},"encoding":{"y":{"field":"threshold","type":"quantitative","scale":{"domain":[0,40]}}}},
{"data":{"values":[{"threshold":6}]},"mark":{"type":"rule","color":"#5a65e0","strokeWidth":1.6},"encoding":{"y":{"field":"threshold","type":"quantitative","scale":{"domain":[0,40]}}}},
{"data":{"name":"chrLabels"},"mark":{"type":"text","font":"Liberation Sans","fontSize":9.5,"color":"#222","baseline":"middle","align":"center"},"encoding":{"x":{"field":"pos","type":"quantitative","scale":{"domain":[99,817]}},"y":{"datum":-6.26,"scale":{"domain":[0,40]}},"text":{"field":"label"}}},
{"data":{"values":[{"letter":"b","pos":16,"logp":47.9}]},"mark":{"type":"text","align":"left","baseline":"alphabetic"},"encoding":{"x":{"field":"pos","type":"quantitative","scale":{"domain":[99,817]}},"y":{"field":"logp","type":"quantitative","scale":{"domain":[0,40]}},"text":{"field":"letter"}}}
]},
{"width":718,"height":194,"title":{"text":"Pepoi","offset":-30.7},"layer":[
{"data":{"name":"envC"},"mark":{"type":"area"},"encoding":{"x":{"field":"pos","type":"quantitative","scale":{"domain":[99,817]},"title":"Chromosome","axis":{"values":[194.5,322.5,419,495,551,586,612.7,637.3,656.7,672.3,687.3,702,715.7,728.3,738.3,743.3,747.3,755.7,763.7,772.7,780.3,785.7,788,792.3,796,798.3,800.7,803,806.7],"labels":false,"domain":false,"tickSize":10,"titleFontSize":15,"titleX":365,"titleY":58}},"y":{"field":"top","type":"quantitative","stack":null,"scale":{"domain":[0,40]},"title":"−log₁₀(𝑝)","axis":{"values":[0,10,20,30,40],"tickSize":10,"labelPadding":8,"titleFontSize":17.5,"titleX":-64,"titleY":92}},"color":{"field":"chr","type":"ordinal","legend":null,"scale":{"domain":[1,2,3,4,5,6,7,8,9,10,11,12,13,14,15,17,18,19,20,21,22,23,24,25,26],"range":["#00007f","#df8200","#00007f","#df8200","#00007f","#df8200","#00007f","#df8200","#00007f","#df8200","#00007f","#df8200","#00007f","#df8200","#00007f","#00007f","#df8200","#00007f","#df8200","#00007f","#df8200","#00007f","#df8200","#00007f","#df8200"]}}}},
{"data":{"name":"ptsC"},"mark":{"type":"circle","size":12,"opacity":1},"encoding":{"x":{"field":"pos","type":"quantitative","scale":{"domain":[99,817]}},"y":{"field":"logp","type":"quantitative","scale":{"domain":[0,40]}},"color":{"field":"chr","type":"ordinal","legend":null}}},
{"data":{"values":[{"threshold":7}]},"mark":{"type":"rule","color":"#ff3b3b","strokeWidth":1.2},"encoding":{"y":{"field":"threshold","type":"quantitative","scale":{"domain":[0,40]}}}},
{"data":{"values":[{"threshold":6}]},"mark":{"type":"rule","color":"#4a55d8","strokeWidth":1.2},"encoding":{"y":{"field":"threshold","type":"quantitative","scale":{"domain":[0,40]}}}},
{"data":{"name":"chrLabels"},"mark":{"type":"text","font":"Liberation Sans","fontSize":9.5,"color":"#222","baseline":"middle","align":"center"},"encoding":{"x":{"field":"pos","type":"quantitative","scale":{"domain":[99,817]}},"y":{"datum":-6.39,"scale":{"domain":[0,40]}},"text":{"field":"label"}}},
{"data":{"values":[{"letter":"c","pos":16,"logp":47.9}]},"mark":{"type":"text","align":"left","baseline":"alphabetic"},"encoding":{"x":{"field":"pos","type":"quantitative","scale":{"domain":[99,817]}},"y":{"field":"logp","type":"quantitative","scale":{"domain":[0,40]}},"text":{"field":"letter"}}}
]}
],"spacing":201.7,"bounds":"flush"}
],"spacing":197.7,"bounds":"flush"}
